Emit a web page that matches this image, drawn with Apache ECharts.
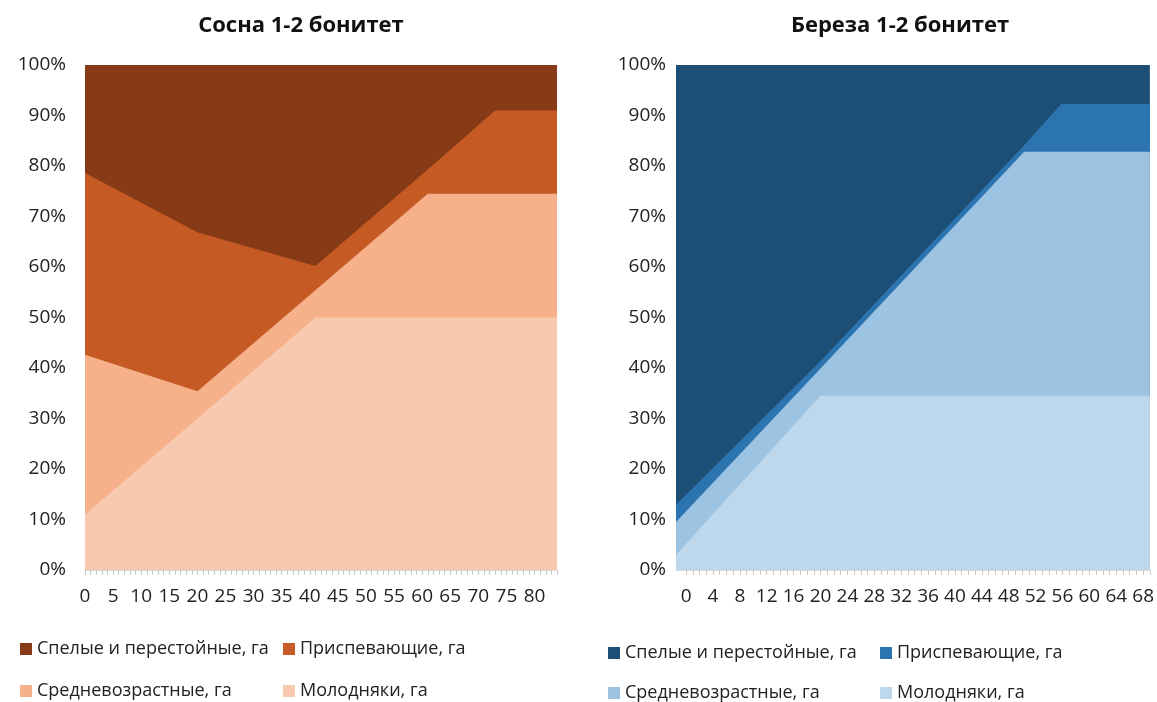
<!doctype html>
<html>
<head>
    <meta charset="utf-8">
    <title>Сосна и береза 1-2 бонитет</title>
    <script src="https://cdn.jsdelivr.net/npm/echarts@6/dist/echarts.min.js"></script>
    <style>
        html, body { margin: 0; padding: 0; background: #fff; }
        #chart { width: 1157px; height: 702px; }
    </style>
</head>
<body>
<div id="chart"></div>
<script>
    // названия групп возраста
    var names = ['Молодняки, га', 'Средневозрастные, га', 'Приспевающие, га', 'Спелые и перестойные, га'];

    // Сосна 1-2 бонитет, доли в % (снизу вверх)
    var pineX = [0, 20, 41, 61, 73, 84];
    var pineYoung = [11, 30, 50, 50, 50, 50];
    var pineMiddle = [31.6, 5.4, 5.4, 24.5, 24.5, 24.5];
    var pineRipening = [36, 31.5, 4.8, 4.8, 16.5, 16.5];
    var pineMature = [21.4, 33.1, 39.8, 20.7, 9, 9];

    // Береза 1-2 бонитет
    var birchX = [-1.5, 20, 50.3, 55.8, 69];
    var birchYoung = [3, 34.5, 34.5, 34.5, 34.5];
    var birchMiddle = [6.5, 5.4, 48.3, 48.3, 48.3];
    var birchRipening = [3.4, 1.5, 1.3, 9.5, 9.5];
    var birchMature = [87.1, 58.6, 15.9, 7.7, 7.7];

    // подписи оси X
    var pineLabels = [0, 5, 10, 15, 20, 25, 30, 35, 40, 45, 50, 55, 60, 65, 70, 75, 80];
    var birchLabels = [0, 4, 8, 12, 16, 20, 24, 28, 32, 36, 40, 44, 48, 52, 56, 60, 64, 68];
    var pineTicks = [];
    for (var i = 0; i <= 84; i++) pineTicks.push(i);
    var birchTicks = [];
    for (var j = 0; j <= 69; j++) birchTicks.push(j);

    var pineColors = ['#F8C9AE', '#F6B08A', '#C65A24', '#873A16'];
    var birchColors = ['#BDD7EC', '#9DC3E3', '#2C74B0', '#1D4E75'];

    var font = 'Open Sans';

    // накопленные доли: верхняя граница каждого слоя
    function cumulate(sets) {
        var out = [];
        var run = sets[0].map(function () { return 0; });
        sets.forEach(function (ys) {
            run = run.map(function (v, k) { return v + ys[k]; });
            out.push(run.slice());
        });
        return out;
    }

    function makeSeries(xs, sets, colors, idx) {
        var cum = cumulate(sets);
        var list = [];
        // сначала верхний слой, нижние рисуются поверх
        for (var k = cum.length - 1; k >= 0; k--) {
            list.push({
                name: names[k],
                type: 'line',
                xAxisIndex: idx,
                yAxisIndex: idx,
                data: xs.map(function (x, n) { return [x, cum[k][n]]; }),
                showSymbol: false,
                symbol: 'none',
                lineStyle: { width: 0 },
                itemStyle: { color: colors[k] },
                areaStyle: { color: colors[k], opacity: 1, origin: 'start' },
                silent: true,
                animation: false
            });
        }
        return list;
    }

    function xAxisOf(idx, min, max, labels, ticks) {
        return {
            type: 'value',
            gridIndex: idx,
            min: min,
            max: max,
            splitLine: { show: false },
            axisLine: { show: true, lineStyle: { color: '#d9d9d9', width: 1 } },
            axisTick: { show: true, customValues: ticks, length: 5, lineStyle: { color: '#c8c8c8' } },
            axisLabel: {
                customValues: labels, margin: 17,
                fontFamily: font, fontSize: 19, color: '#222'
            }
        };
    }

    function yAxisOf(idx, margin) {
        return {
            type: 'value',
            gridIndex: idx,
            min: 0,
            max: 100,
            interval: 10,
            splitLine: { show: false },
            axisLine: { show: false },
            axisTick: { show: false },
            axisLabel: {
                formatter: '{value}%', margin: margin,
                fontFamily: font, fontSize: 19, color: '#222'
            }
        };
    }

    function legendOf(name, color, left, top) {
        return {
            left: left, top: top,
            padding: 0,
            selectedMode: false,
            icon: 'rect',
            itemWidth: 12, itemHeight: 12,
            textStyle: { fontFamily: font, fontSize: 18, color: '#222' },
            data: [{ name: name, itemStyle: { color: color, borderWidth: 0 } }]
        };
    }

    var myChart = echarts.init(document.getElementById('chart'));
    var option = {
        animation: false,
        title: [
            { text: 'Сосна 1-2 бонитет', left: 296, top: 10, textAlign: 'center',
              textStyle: { fontFamily: font, fontSize: 22, fontWeight: 'bold', color: '#111' } },
            { text: 'Береза 1-2 бонитет', left: 895, top: 10, textAlign: 'center',
              textStyle: { fontFamily: font, fontSize: 22, fontWeight: 'bold', color: '#111' } }
        ],
        grid: [
            { left: 85, top: 65, width: 472, height: 505 },
            { left: 676, top: 65, width: 475, height: 505 }
        ],
        xAxis: [
            xAxisOf(0, 0, 84, pineLabels, pineTicks),
            xAxisOf(1, -1.5, 69, birchLabels, birchTicks)
        ],
        yAxis: [yAxisOf(0, 19), yAxisOf(1, 10)],
        legend: [
            legendOf(names[3], pineColors[3], 20, 640),
            legendOf(names[2], pineColors[2], 283, 640),
            legendOf(names[1], pineColors[1], 20, 682),
            legendOf(names[0], pineColors[0], 283, 682),
            legendOf(names[3], birchColors[3], 608, 644),
            legendOf(names[2], birchColors[2], 880, 644),
            legendOf(names[1], birchColors[1], 608, 684),
            legendOf(names[0], birchColors[0], 880, 684)
        ],
        series: makeSeries(pineX, [pineYoung, pineMiddle, pineRipening, pineMature], pineColors, 0)
            .concat(makeSeries(birchX, [birchYoung, birchMiddle, birchRipening, birchMature], birchColors, 1))
    };
    myChart.setOption(option);
</script>
</body>
</html>
